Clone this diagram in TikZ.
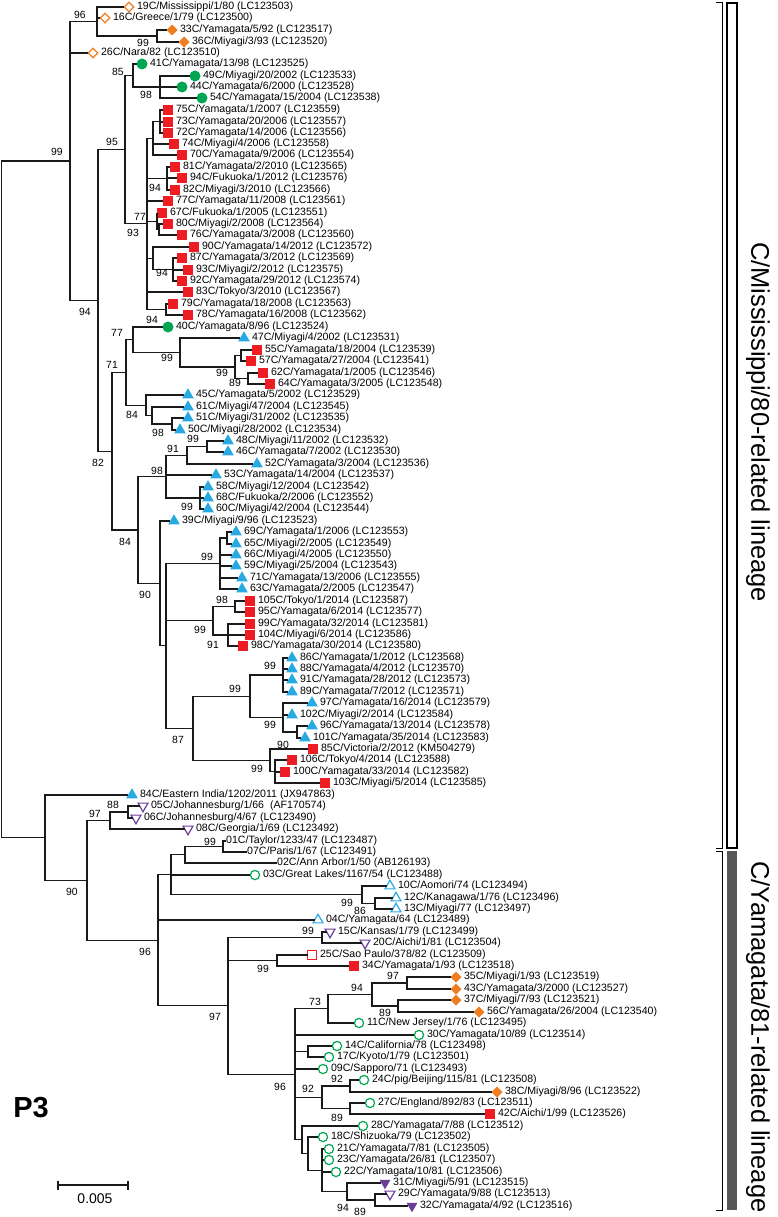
\documentclass[tikz,border=0pt]{standalone}
\usepackage{fontspec}
\setmainfont{Liberation Sans}
\usetikzlibrary{shapes.geometric}
\definecolor{orangeC}{HTML}{EF7D22}
\definecolor{greenC}{HTML}{00A651}
\definecolor{redC}{HTML}{EE1D23}
\definecolor{blueC}{HTML}{27AAE1}
\definecolor{purpleC}{HTML}{6A3D97}
\definecolor{greyC}{HTML}{585858}
\definecolor{lineC}{HTML}{1A1A1A}
\tikzset{
  br/.style={draw=lineC, line width=1.1pt},
  lbl/.style={anchor=west, inner sep=0pt, font=\fontsize{10.6}{12}\selectfont},
  bs/.style={inner sep=0pt, font=\fontsize{10.4}{12}\selectfont},
  lineage/.style={rotate=-90, inner sep=0pt, font=\fontsize{25.5}{28}\selectfont},
  mk/.style={inner sep=0pt, outer sep=0pt},
  odia/.style={mk, diamond, draw=orangeC, fill=white, line width=1.2pt, minimum size=9.5pt},
  fdia/.style={mk, diamond, fill=orangeC, minimum size=11pt},
  gdot/.style={mk, circle, fill=greenC, minimum size=11pt},
  gcir/.style={mk, circle, draw=greenC, fill=white, line width=1.2pt, minimum size=9.2pt},
  rsq/.style={mk, rectangle, fill=redC, minimum size=10pt},
  rbox/.style={mk, rectangle, draw=redC, fill=white, line width=1.2pt, minimum size=8.8pt},
  btri/.style={mk, regular polygon, regular polygon sides=3, fill=blueC, minimum size=13.5pt},
  bopen/.style={mk, regular polygon, regular polygon sides=3, draw=blueC, fill=white, line width=1.2pt, minimum size=11.5pt},
  pinv/.style={mk, regular polygon, regular polygon sides=3, shape border rotate=180, draw=purpleC, fill=white, line width=1.2pt, minimum size=11.5pt},
  pdown/.style={mk, regular polygon, regular polygon sides=3, shape border rotate=180, fill=purpleC, minimum size=12.5pt},
}
\begin{document}
\begin{tikzpicture}[x=1pt,y=-1pt]
\useasboundingbox (0,0) rectangle (777,1217);

% internal nodes, C/Mississippi/80-related lineage
\coordinate (root) at (1.5,499.4);
\coordinate (nMis) at (70,161);
\coordinate (nA) at (97,21.5);
\coordinate (nB) at (157,36);
\coordinate (n94a) at (98,300.5);
\coordinate (n95) at (125,149.7);
\coordinate (n85) at (133,75.5);
\coordinate (n98a) at (160,87);
\coordinate (n93) at (147,223.9);
\coordinate (n153a) at (153,138.3);
\coordinate (n160) at (160,121.5);
\coordinate (n167) at (167,178.5);
\coordinate (n77) at (157,221.3);
\coordinate (n159) at (159,229.5);
\coordinate (n153b) at (153,258.3);
\coordinate (n173) at (173,269.5);
\coordinate (n166a) at (166,309.5);
\coordinate (n82) at (112,451.3);
\coordinate (n71) at (126,372.5);
\coordinate (n77b) at (133,339.8);
\coordinate (n99a) at (180,352.5);
\coordinate (n99b) at (235,367);
\coordinate (n241) at (241,355.5);
\coordinate (n89a) at (248,378.5);
\coordinate (n84b) at (146,405.3);
\coordinate (n152) at (152,415.5);
\coordinate (n98b) at (172,424);
\coordinate (n84a) at (138,530);
\coordinate (n98c) at (166,476.6);
\coordinate (n91) at (187,455.3);
\coordinate (n99d) at (207,446.5);
\coordinate (n99c) at (200,498);
\coordinate (n90a) at (160,583.5);
\coordinate (n166b) at (166,645.9);
\coordinate (n99e) at (220,563.5);
\coordinate (n227) at (227,538);
\coordinate (n99f) at (213,620.8);
\coordinate (n98d) at (235,606.5);
\coordinate (n91b) at (228,635);
\coordinate (n87) at (193,728.3);
\coordinate (n99g) at (250,696.3);
\coordinate (n99h) at (283,675);
\coordinate (n283) at (283,717.5);
\coordinate (n297) at (297,732);
\coordinate (n90b) at (270,760.3);
\coordinate (n275) at (275,771.5);

% internal nodes, C/Yamagata/81-related lineage
\coordinate (nYam) at (45,837.7);
\coordinate (n90c) at (87,880.4);
\coordinate (n97) at (110,820.5);
\coordinate (n88) at (128,812);
\coordinate (n96a) at (158,940.3);
\coordinate (n171) at (171,874.8);
\coordinate (n185) at (185,854.8);
\coordinate (n223) at (223,846.5);
\coordinate (n362) at (362,894.8);
\coordinate (n375) at (375,903.5);
\coordinate (n228) at (228,1005.9);
\coordinate (n99i) at (322,937.5);
\coordinate (n277) at (277,960.5);
\coordinate (n96b) at (295,1074.3);
\coordinate (n73) at (328,1008.8);
\coordinate (n94b) at (372,994.5);
\coordinate (n97b) at (407,983);
\coordinate (n89b) at (398,1006);
\coordinate (n308) at (308,1051.5);
\coordinate (n322) at (322,1097.3);
\coordinate (n92) at (350,1086);
\coordinate (n89c) at (350,1108.5);
\coordinate (n302) at (302,1139.8);
\coordinate (n308b) at (308,1153.6);
\coordinate (n322b) at (322,1170.3);
\coordinate (n94c) at (347,1191.5);
\coordinate (n375b) at (375,1200);

% leaves
\node[odia] (l19) at (129,7) {}; \node[lbl] (t19) at ([xshift=7.8pt]l19.center) {19C/Mississippi/1/80 (LC123503)};
\node[odia] (l16) at (105,18) {}; \node[lbl] (t16) at ([xshift=7.8pt]l16.center) {16C/Greece/1/79 (LC123500)};
\node[fdia] (l33) at (172,30) {}; \node[lbl] (t33) at ([xshift=7.8pt]l33.center) {33C/Yamagata/5/92 (LC123517)};
\node[fdia] (l36) at (184,42) {}; \node[lbl] (t36) at ([xshift=7.8pt]l36.center) {36C/Miyagi/3/93 (LC123520)};
\node[odia] (l26) at (93,53) {}; \node[lbl] (t26) at ([xshift=7.8pt]l26.center) {26C/Nara/82 (LC123510)};
\node[gdot] (l41) at (142,64) {}; \node[lbl] (t41) at ([xshift=7.8pt]l41.center) {41C/Yamagata/13/98 (LC123525)};
\node[gdot] (l49) at (195,76) {}; \node[lbl] (t49) at ([xshift=7.8pt]l49.center) {49C/Miyagi/20/2002 (LC123533)};
\node[gdot] (l44) at (182,87) {}; \node[lbl] (t44) at ([xshift=7.8pt]l44.center) {44C/Yamagata/6/2000 (LC123528)};
\node[gdot] (l54) at (202,98) {}; \node[lbl] (t54) at ([xshift=7.8pt]l54.center) {54C/Yamagata/15/2004 (LC123538)};
\node[rsq] (l75) at (168,110) {}; \node[lbl] (t75) at ([xshift=7.8pt]l75.center) {75C/Yamagata/1/2007 (LC123559)};
\node[rsq] (l73) at (168,122) {}; \node[lbl] (t73) at ([xshift=7.8pt]l73.center) {73C/Yamagata/20/2006 (LC123557)};
\node[rsq] (l72) at (168,133) {}; \node[lbl] (t72) at ([xshift=7.8pt]l72.center) {72C/Yamagata/14/2006 (LC123556)};
\node[rsq] (l74) at (174,144) {}; \node[lbl] (t74) at ([xshift=7.8pt]l74.center) {74C/Miyagi/4/2006 (LC123558)};
\node[rsq] (l70) at (182,155) {}; \node[lbl] (t70) at ([xshift=7.8pt]l70.center) {70C/Yamagata/9/2006 (LC123554)};
\node[rsq] (l81) at (175,167) {}; \node[lbl] (t81) at ([xshift=7.8pt]l81.center) {81C/Yamagata/2/2010 (LC123565)};
\node[rsq] (l94) at (182,178) {}; \node[lbl] (t94) at ([xshift=7.8pt]l94.center) {94C/Fukuoka/1/2012 (LC123576)};
\node[rsq] (l82) at (175,190) {}; \node[lbl] (t82) at ([xshift=7.8pt]l82.center) {82C/Miyagi/3/2010 (LC123566)};
\node[rsq] (l77) at (168,201) {}; \node[lbl] (t77) at ([xshift=7.8pt]l77.center) {77C/Yamagata/11/2008 (LC123561)};
\node[rsq] (l67) at (162,213) {}; \node[lbl] (t67) at ([xshift=7.8pt]l67.center) {67C/Fukuoka/1/2005 (LC123551)};
\node[rsq] (l80) at (168,224) {}; \node[lbl] (t80) at ([xshift=7.8pt]l80.center) {80C/Miyagi/2/2008 (LC123564)};
\node[rsq] (l76) at (182,235) {}; \node[lbl] (t76) at ([xshift=7.8pt]l76.center) {76C/Yamagata/3/2008 (LC123560)};
\node[rsq] (l90) at (194,247) {}; \node[lbl] (t90) at ([xshift=7.8pt]l90.center) {90C/Yamagata/14/2012 (LC123572)};
\node[rsq] (l87) at (182,258) {}; \node[lbl] (t87) at ([xshift=7.8pt]l87.center) {87C/Yamagata/3/2012 (LC123569)};
\node[rsq] (l93) at (188,270) {}; \node[lbl] (t93) at ([xshift=7.8pt]l93.center) {93C/Miyagi/2/2012 (LC123575)};
\node[rsq] (l92) at (182,281) {}; \node[lbl] (t92) at ([xshift=7.8pt]l92.center) {92C/Yamagata/29/2012 (LC123574)};
\node[rsq] (l83) at (188,292) {}; \node[lbl] (t83) at ([xshift=7.8pt]l83.center) {83C/Tokyo/3/2010 (LC123567)};
\node[rsq] (l79) at (173,304) {}; \node[lbl] (t79) at ([xshift=7.8pt]l79.center) {79C/Yamagata/18/2008 (LC123563)};
\node[rsq] (l78) at (188,315) {}; \node[lbl] (t78) at ([xshift=7.8pt]l78.center) {78C/Yamagata/16/2008 (LC123562)};
\node[gdot] (l40) at (168,327) {}; \node[lbl] (t40) at ([xshift=7.8pt]l40.center) {40C/Yamagata/8/96 (LC123524)};
\node[btri] (l47) at (244,338) {}; \node[lbl] (t47) at ([xshift=7.8pt]l47.center) {47C/Miyagi/4/2002 (LC123531)};
\node[rsq] (l55) at (257,350) {}; \node[lbl] (t55) at ([xshift=7.8pt]l55.center) {55C/Yamagata/18/2004 (LC123539)};
\node[rsq] (l57) at (251,361) {}; \node[lbl] (t57) at ([xshift=7.8pt]l57.center) {57C/Yamagata/27/2004 (LC123541)};
\node[rsq] (l62) at (263,373) {}; \node[lbl] (t62) at ([xshift=7.8pt]l62.center) {62C/Yamagata/1/2005 (LC123546)};
\node[rsq] (l64) at (270,384) {}; \node[lbl] (t64) at ([xshift=7.8pt]l64.center) {64C/Yamagata/3/2005 (LC123548)};
\node[btri] (l45) at (188,395) {}; \node[lbl] (t45) at ([xshift=7.8pt]l45.center) {45C/Yamagata/5/2002 (LC123529)};
\node[btri] (l61) at (188,407) {}; \node[lbl] (t61) at ([xshift=7.8pt]l61.center) {61C/Miyagi/47/2004 (LC123545)};
\node[btri] (l51) at (188,418) {}; \node[lbl] (t51) at ([xshift=7.8pt]l51.center) {51C/Miyagi/31/2002 (LC123535)};
\node[btri] (l50) at (180,430) {}; \node[lbl] (t50) at ([xshift=7.8pt]l50.center) {50C/Miyagi/28/2002 (LC123534)};
\node[btri] (l48) at (228,441) {}; \node[lbl] (t48) at ([xshift=7.8pt]l48.center) {48C/Miyagi/11/2002 (LC123532)};
\node[btri] (l46) at (228,452) {}; \node[lbl] (t46) at ([xshift=7.8pt]l46.center) {46C/Yamagata/7/2002 (LC123530)};
\node[btri] (l52) at (257,464) {}; \node[lbl] (t52) at ([xshift=7.8pt]l52.center) {52C/Yamagata/3/2004 (LC123536)};
\node[btri] (l53) at (216,475) {}; \node[lbl] (t53) at ([xshift=7.8pt]l53.center) {53C/Yamagata/14/2004 (LC123537)};
\node[btri] (l58) at (208,487) {}; \node[lbl] (t58) at ([xshift=7.8pt]l58.center) {58C/Miyagi/12/2004 (LC123542)};
\node[btri] (l68) at (208,498) {}; \node[lbl] (t68) at ([xshift=7.8pt]l68.center) {68C/Fukuoka/2/2006 (LC123552)};
\node[btri] (l60) at (208,509) {}; \node[lbl] (t60) at ([xshift=7.8pt]l60.center) {60C/Miyagi/42/2004 (LC123544)};
\node[btri] (l39) at (174,521) {}; \node[lbl] (t39) at ([xshift=7.8pt]l39.center) {39C/Miyagi/9/96 (LC123523)};
\node[btri] (l69) at (236,532) {}; \node[lbl] (t69) at ([xshift=7.8pt]l69.center) {69C/Yamagata/1/2006 (LC123553)};
\node[btri] (l65) at (236,544) {}; \node[lbl] (t65) at ([xshift=7.8pt]l65.center) {65C/Miyagi/2/2005 (LC123549)};
\node[btri] (l66) at (236,555) {}; \node[lbl] (t66) at ([xshift=7.8pt]l66.center) {66C/Miyagi/4/2005 (LC123550)};
\node[btri] (l59) at (236,566) {}; \node[lbl] (t59) at ([xshift=7.8pt]l59.center) {59C/Miyagi/25/2004 (LC123543)};
\node[btri] (l71) at (242,578) {}; \node[lbl] (t71) at ([xshift=7.8pt]l71.center) {71C/Yamagata/13/2006 (LC123555)};
\node[btri] (l63) at (242,589) {}; \node[lbl] (t63) at ([xshift=7.8pt]l63.center) {63C/Yamagata/2/2005 (LC123547)};
\node[rsq] (l105) at (250,601) {}; \node[lbl] (t105) at ([xshift=7.8pt]l105.center) {105C/Tokyo/1/2014 (LC123587)};
\node[rsq] (l95) at (250,612) {}; \node[lbl] (t95) at ([xshift=7.8pt]l95.center) {95C/Yamagata/6/2014 (LC123577)};
\node[rsq] (l99) at (250,624) {}; \node[lbl] (t99) at ([xshift=7.8pt]l99.center) {99C/Yamagata/32/2014 (LC123581)};
\node[rsq] (l104) at (250,635) {}; \node[lbl] (t104) at ([xshift=7.8pt]l104.center) {104C/Miyagi/6/2014 (LC123586)};
\node[rsq] (l98) at (243,646) {}; \node[lbl] (t98) at ([xshift=7.8pt]l98.center) {98C/Yamagata/30/2014 (LC123580)};
\node[btri] (l86) at (292,658) {}; \node[lbl] (t86) at ([xshift=7.8pt]l86.center) {86C/Yamagata/1/2012 (LC123568)};
\node[btri] (l88) at (292,669) {}; \node[lbl] (t88) at ([xshift=7.8pt]l88.center) {88C/Yamagata/4/2012 (LC123570)};
\node[btri] (l91) at (292,680) {}; \node[lbl] (t91) at ([xshift=7.8pt]l91.center) {91C/Yamagata/28/2012 (LC123573)};
\node[btri] (l89) at (292,692) {}; \node[lbl] (t89) at ([xshift=7.8pt]l89.center) {89C/Yamagata/7/2012 (LC123571)};
\node[btri] (l97) at (312,703) {}; \node[lbl] (t97) at ([xshift=7.8pt]l97.center) {97C/Yamagata/16/2014 (LC123579)};
\node[btri] (l102) at (292,715) {}; \node[lbl] (t102) at ([xshift=7.8pt]l102.center) {102C/Miyagi/2/2014 (LC123584)};
\node[btri] (l96) at (312,726) {}; \node[lbl] (t96) at ([xshift=7.8pt]l96.center) {96C/Yamagata/13/2014 (LC123578)};
\node[btri] (l101) at (305,738) {}; \node[lbl] (t101) at ([xshift=7.8pt]l101.center) {101C/Yamagata/35/2014 (LC123583)};
\node[rsq] (l85) at (313,749) {}; \node[lbl] (t85) at ([xshift=7.8pt]l85.center) {85C/Victoria/2/2012 (KM504279)};
\node[rsq] (l106) at (292,760) {}; \node[lbl] (t106) at ([xshift=7.8pt]l106.center) {106C/Tokyo/4/2014 (LC123588)};
\node[rsq] (l100) at (285,772) {}; \node[lbl] (t100) at ([xshift=7.8pt]l100.center) {100C/Yamagata/33/2014 (LC123582)};
\node[rsq] (l103) at (325,783) {}; \node[lbl] (t103) at ([xshift=7.8pt]l103.center) {103C/Miyagi/5/2014 (LC123585)};
\node[btri] (l84) at (132,795) {}; \node[lbl] (t84) at ([xshift=7.8pt]l84.center) {84C/Eastern India/1202/2011 (JX947863)};
\node[pinv] (l05) at (143,806) {}; \node[lbl] (t05) at ([xshift=7.8pt]l05.center) {05C/Johannesburg/1/66\ \ (AF170574)};
\node[pinv] (l06) at (136,818) {}; \node[lbl] (t06) at ([xshift=7.8pt]l06.center) {06C/Johannesburg/4/67 (LC123490)};
\node[pinv] (l08) at (188,829) {}; \node[lbl] (t08) at ([xshift=7.8pt]l08.center) {08C/Georgia/1/69 (LC123492)};
\node[lbl] (t01) at (226,841) {01C/Taylor/1233/47 (LC123487)};
\node[lbl] (t07) at (247,852) {07C/Paris/1/67 (LC123491)};
\node[lbl] (t02) at (277,863) {02C/Ann Arbor/1/50 (AB126193)};
\node[gcir] (l03) at (255,875) {}; \node[lbl] (t03) at ([xshift=7.8pt]l03.center) {03C/Great Lakes/1167/54 (LC123488)};
\node[bopen] (l10) at (390,886) {}; \node[lbl] (t10) at ([xshift=7.8pt]l10.center) {10C/Aomori/74 (LC123494)};
\node[bopen] (l12) at (396,898) {}; \node[lbl] (t12) at ([xshift=7.8pt]l12.center) {12C/Kanagawa/1/76 (LC123496)};
\node[bopen] (l13) at (396,909) {}; \node[lbl] (t13) at ([xshift=7.8pt]l13.center) {13C/Miyagi/77 (LC123497)};
\node[bopen] (l04) at (318,920) {}; \node[lbl] (t04) at ([xshift=7.8pt]l04.center) {04C/Yamagata/64 (LC123489)};
\node[pinv] (l15) at (330,932) {}; \node[lbl] (t15) at ([xshift=7.8pt]l15.center) {15C/Kansas/1/79 (LC123499)};
\node[pinv] (l20) at (365,943) {}; \node[lbl] (t20) at ([xshift=7.8pt]l20.center) {20C/Aichi/1/81 (LC123504)};
\node[rbox] (l25) at (312,955) {}; \node[lbl] (t25) at ([xshift=7.8pt]l25.center) {25C/Sao Paulo/378/82 (LC123509)};
\node[rsq] (l34) at (354,966) {}; \node[lbl] (t34) at ([xshift=7.8pt]l34.center) {34C/Yamagata/1/93 (LC123518)};
\node[fdia] (l35) at (456,977) {}; \node[lbl] (t35) at ([xshift=7.8pt]l35.center) {35C/Miyagi/1/93 (LC123519)};
\node[fdia] (l43) at (456,989) {}; \node[lbl] (t43) at ([xshift=7.8pt]l43.center) {43C/Yamagata/3/2000 (LC123527)};
\node[fdia] (l37) at (456,1000) {}; \node[lbl] (t37) at ([xshift=7.8pt]l37.center) {37C/Miyagi/7/93 (LC123521)};
\node[fdia] (l56) at (479,1012) {}; \node[lbl] (t56) at ([xshift=7.8pt]l56.center) {56C/Yamagata/26/2004 (LC123540)};
\node[gcir] (l11) at (359,1023) {}; \node[lbl] (t11) at ([xshift=7.8pt]l11.center) {11C/New Jersey/1/76 (LC123495)};
\node[gcir] (l30) at (419,1035) {}; \node[lbl] (t30) at ([xshift=7.8pt]l30.center) {30C/Yamagata/10/89 (LC123514)};
\node[gcir] (l14) at (337,1046) {}; \node[lbl] (t14) at ([xshift=7.8pt]l14.center) {14C/California/78 (LC123498)};
\node[gcir] (l17) at (329,1057) {}; \node[lbl] (t17) at ([xshift=7.8pt]l17.center) {17C/Kyoto/1/79 (LC123501)};
\node[gcir] (l09) at (323,1069) {}; \node[lbl] (t09) at ([xshift=7.8pt]l09.center) {09C/Sapporo/71 (LC123493)};
\node[gcir] (l24) at (364,1080) {}; \node[lbl] (t24) at ([xshift=7.8pt]l24.center) {24C/pig/Beijing/115/81 (LC123508)};
\node[fdia] (l38) at (497,1092) {}; \node[lbl] (t38) at ([xshift=7.8pt]l38.center) {38C/Miyagi/8/96 (LC123522)};
\node[gcir] (l27) at (370,1103) {}; \node[lbl] (t27) at ([xshift=7.8pt]l27.center) {27C/England/892/83 (LC123511)};
\node[rsq] (l42) at (490,1114) {}; \node[lbl] (t42) at ([xshift=7.8pt]l42.center) {42C/Aichi/1/99 (LC123526)};
\node[gcir] (l28) at (363,1126) {}; \node[lbl] (t28) at ([xshift=7.8pt]l28.center) {28C/Yamagata/7/88 (LC123512)};
\node[gcir] (l18) at (323,1137) {}; \node[lbl] (t18) at ([xshift=7.8pt]l18.center) {18C/Shizuoka/79 (LC123502)};
\node[gcir] (l21) at (329,1149) {}; \node[lbl] (t21) at ([xshift=7.8pt]l21.center) {21C/Yamagata/7/81 (LC123505)};
\node[gcir] (l23) at (329,1160) {}; \node[lbl] (t23) at ([xshift=7.8pt]l23.center) {23C/Yamagata/26/81 (LC123507)};
\node[gcir] (l22) at (336,1172) {}; \node[lbl] (t22) at ([xshift=7.8pt]l22.center) {22C/Yamagata/10/81 (LC123506)};
\node[pdown] (l31) at (385,1183) {}; \node[lbl] (t31) at ([xshift=7.8pt]l31.center) {31C/Miyagi/5/91 (LC123515)};
\node[pinv] (l29) at (390,1194) {}; \node[lbl] (t29) at ([xshift=7.8pt]l29.center) {29C/Yamagata/9/88 (LC123513)};
\node[pdown] (l32) at (412,1206) {}; \node[lbl] (t32) at ([xshift=7.8pt]l32.center) {32C/Yamagata/4/92 (LC123516)};

% branches
\draw[br] (root) |- (nMis) (root) |- (nYam);
\draw[br] (nMis) |- (nA) (nMis) |- (l26) (nMis) |- (n94a);
\draw[br] (nA) |- (l19) (nA) |- (l16) (nA) |- (nB);
\draw[br] (nB) |- (l33) (nB) |- (l36);
\draw[br] (n94a) |- (n95) (n94a) |- (n82);
\draw[br] (n95) |- (n85) (n95) |- (n93);
\draw[br] (n85) |- (l41) (n85) |- (n98a);
\draw[br] (n98a) |- (l49) (n98a) |- (l44) (n98a) |- (l54);
\draw[br] (n93) |- (n153a) (n93) |- (n167) (n93) |- (l77) (n93) |- (n77) (n93) |- (n153b) (n93) |- (l83) (n93) |- (n166a);
\draw[br] (n153a) |- (n160) (n153a) |- (l74) (n153a) |- (l70);
\draw[br] (n160) |- (l75) (n160) |- (l73) (n160) |- (l72);
\draw[br] (n167) |- (l81) (n167) |- (l94) (n167) |- (l82);
\draw[br] (n77) |- (l67) (n77) |- (n159);
\draw[br] (n159) |- (l80) (n159) |- (l76);
\draw[br] (n153b) |- (l90) (n153b) |- (n173);
\draw[br] (n173) |- (l87) (n173) |- (l93) (n173) |- (l92);
\draw[br] (n166a) |- (l79) (n166a) |- (l78);
\draw[br] (n82) |- (n71) (n82) |- (n84a);
\draw[br] (n71) |- (n77b) (n71) |- (n84b);
\draw[br] (n77b) |- (l40) (n77b) |- (n99a);
\draw[br] (n99a) |- (l47) (n99a) |- (n99b);
\draw[br] (n99b) |- (n241) (n99b) |- (n89a);
\draw[br] (n241) |- (l55) (n241) |- (l57);
\draw[br] (n89a) |- (l62) (n89a) |- (l64);
\draw[br] (n84b) |- (l45) (n84b) |- (n152);
\draw[br] (n152) |- (l61) (n152) |- (n98b);
\draw[br] (n98b) |- (l51) (n98b) |- (l50);
\draw[br] (n84a) |- (n98c) (n84a) |- (n90a);
\draw[br] (n98c) |- (n91) (n98c) |- (l53) (n98c) |- (n99c);
\draw[br] (n91) |- (n99d) (n91) |- (l52);
\draw[br] (n99d) |- (l48) (n99d) |- (l46);
\draw[br] (n99c) |- (l58) (n99c) |- (l68) (n99c) |- (l60);
\draw[br] (n90a) |- (l39) (n90a) |- (n166b);
\draw[br] (n166b) |- (n99e) (n166b) |- (n99f) (n166b) |- (n87);
\draw[br] (n99e) |- (n227) (n99e) |- (l66) (n99e) |- (l59) (n99e) |- (l71) (n99e) |- (l63);
\draw[br] (n227) |- (l69) (n227) |- (l65);
\draw[br] (n99f) |- (n98d) (n99f) |- (n91b);
\draw[br] (n98d) |- (l105) (n98d) |- (l95);
\draw[br] (n91b) |- (l99) (n91b) |- (l104) (n91b) |- (l98);
\draw[br] (n87) |- (n99g) (n87) |- (n90b);
\draw[br] (n99g) |- (n99h) (n99g) |- (n283);
\draw[br] (n99h) |- (l86) (n99h) |- (l88) (n99h) |- (l91) (n99h) |- (l89);
\draw[br] (n283) |- (l97) (n283) |- (l102) (n283) |- (n297);
\draw[br] (n297) |- (l96) (n297) |- (l101);
\draw[br] (n90b) |- (l85) (n90b) |- (n275);
\draw[br] (n275) |- (l106) (n275) |- (l100) (n275) |- (l103);
\draw[br] (nYam) |- (l84) (nYam) |- (n90c);
\draw[br] (n90c) |- (n97) (n90c) |- (n96a);
\draw[br] (n97) |- (n88) (n97) |- (l08);
\draw[br] (n88) |- (l05) (n88) |- (l06);
\draw[br] (n96a) |- (n171) (n96a) |- (l04) (n96a) |- (n228);
\draw[br] (n171) |- (n185) (n171) |- (l03) (n171) |- (n362);
\draw[br] (n185) |- (n223) (n185) |- (t02);
\draw[br] (n223) |- (t01) (n223) |- (t07);
\draw[br] (n362) |- (l10) (n362) |- (n375);
\draw[br] (n375) |- (l12) (n375) |- (l13);
\draw[br] (n228) |- (n99i) (n228) |- (n277) (n228) |- (n96b);
\draw[br] (n99i) |- (l15) (n99i) |- (l20);
\draw[br] (n277) |- (l25) (n277) |- (l34);
\draw[br] (n96b) |- (n73) (n96b) |- (l30) (n96b) |- (n308) (n96b) |- (l09) (n96b) |- (n322) (n96b) |- (n302);
\draw[br] (n73) |- (n94b) (n73) |- (l11);
\draw[br] (n94b) |- (n97b) (n94b) |- (n89b);
\draw[br] (n97b) |- (l35) (n97b) |- (l43);
\draw[br] (n89b) |- (l37) (n89b) |- (l56);
\draw[br] (n308) |- (l14) (n308) |- (l17);
\draw[br] (n322) |- (n92) (n322) |- (n89c);
\draw[br] (n92) |- (l24) (n92) |- (l38);
\draw[br] (n89c) |- (l27) (n89c) |- (l42);
\draw[br] (n302) |- (l28) (n302) |- (n308b);
\draw[br] (n308b) |- (l18) (n308b) |- (n322b);
\draw[br] (n322b) |- (l21) (n322b) |- (l23) (n322b) |- (l22) (n322b) |- (n94c);
\draw[br] (n94c) |- (l31) (n94c) |- (n375b);
\draw[br] (n375b) |- (l29) (n375b) |- (l32);

% bootstrap values
\node[bs] (b01) at (80,15) {96};
\node[bs] (b02) at (143,43) {99};
\node[bs] (b03) at (118,72) {85};
\node[bs] (b04) at (146,95) {98};
\node[bs] (b05) at (57,152) {99};
\node[bs] (b06) at (112,142) {95};
\node[bs] (b07) at (155,188) {94};
\node[bs] (b08) at (140,217) {77};
\node[bs] (b09) at (133,233) {93};
\node[bs] (b10) at (162,273) {94};
\node[bs] (b11) at (85,312) {94};
\node[bs] (b12) at (152,320) {94};
\node[bs] (b13) at (117,333) {77};
\node[bs] (b14) at (112,365) {71};
\node[bs] (b15) at (167,358) {99};
\node[bs] (b16) at (222,373) {99};
\node[bs] (b17) at (235,383) {89};
\node[bs] (b18) at (132,415) {84};
\node[bs] (b19) at (158,433) {98};
\node[bs] (b20) at (193,439) {99};
\node[bs] (b21) at (98,463) {82};
\node[bs] (b22) at (173,449) {91};
\node[bs] (b23) at (157,471) {98};
\node[bs] (b24) at (187,507) {99};
\node[bs] (b25) at (125,542) {84};
\node[bs] (b26) at (207,557) {99};
\node[bs] (b27) at (145,595) {90};
\node[bs] (b28) at (222,600) {98};
\node[bs] (b29) at (200,630) {99};
\node[bs] (b30) at (213,645) {91};
\node[bs] (b31) at (270,666) {99};
\node[bs] (b32) at (235,689) {99};
\node[bs] (b33) at (270,725) {99};
\node[bs] (b34) at (178,740) {87};
\node[bs] (b35) at (283,745) {90};
\node[bs] (b36) at (257,769) {99};
\node[bs] (b37) at (113,805) {88};
\node[bs] (b38) at (95,814) {97};
\node[bs] (b39) at (210,842) {99};
\node[bs] (b40) at (72,892) {90};
\node[bs] (b41) at (347,903) {99};
\node[bs] (b42) at (360,911) {86};
\node[bs] (b43) at (145,952) {96};
\node[bs] (b44) at (308,931) {99};
\node[bs] (b45) at (263,969) {99};
\node[bs] (b46) at (393,976) {97};
\node[bs] (b47) at (357,988) {94};
\node[bs] (b48) at (215,1017) {97};
\node[bs] (b49) at (315,1002) {73};
\node[bs] (b50) at (385,1013) {89};
\node[bs] (b51) at (280,1087) {96};
\node[bs] (b52) at (337,1079) {92};
\node[bs] (b53) at (308,1089) {92};
\node[bs] (b54) at (337,1118) {89};
\node[bs] (b55) at (343,1208) {94};
\node[bs] (b56) at (360,1212) {89};

% lineage bars
\draw[line width=1pt] (716,3) -- (722,3) -- (722,848) -- (716,848);
\draw[line width=1pt] (716,851) -- (722,851) -- (722,1210) -- (716,1210);
\draw[line width=1.3pt, fill=white] (727,3) rectangle (737,848);
\fill[greyC] (727,851) rectangle (737,1210);
\node[lineage] (linM) at (758,422) {C/Mississippi/80-related lineage};
\node[lineage] (linY) at (758,1037) {C/Yamagata/81-related lineage};

% panel label and scale
\node[inner sep=0pt, font=\fontsize{29}{32}\selectfont\bfseries] (p3) at (31,1108) {P3};
\coordinate (sb1) at (58,1185);
\coordinate (sb2) at (128,1185);
\draw[br] (sb1) -- (sb2);
\draw[br] ([yshift=4.5pt]sb1) -- ([yshift=-4.5pt]sb1);
\draw[br] ([yshift=4.5pt]sb2) -- ([yshift=-4.5pt]sb2);
\node[inner sep=0pt, font=\fontsize{14}{16}\selectfont] (sbl) at (95,1199) {0.005};
\end{tikzpicture}
\end{document}
